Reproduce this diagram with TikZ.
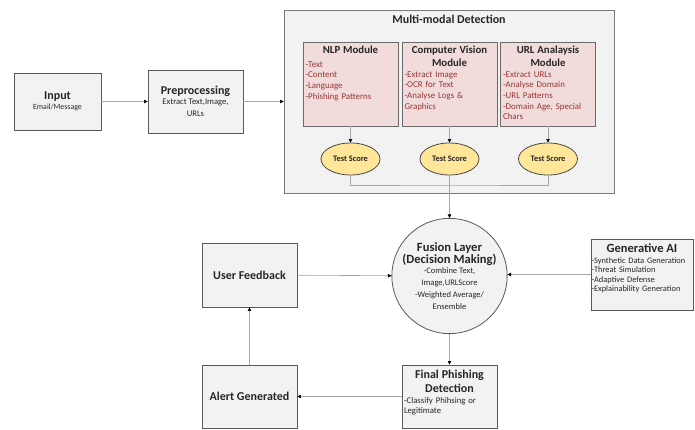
\documentclass[tikz,border=0pt]{standalone}
\usepackage{fontspec}
\setmainfont{Carlito}
\usetikzlibrary{arrows.meta,calc,positioning,shapes.geometric}
\definecolor{FlowInk}{HTML}{262626}
\definecolor{FlowLine}{HTML}{A6A6A6}
\definecolor{FlowEdge}{HTML}{595959}
\definecolor{FlowPaper}{HTML}{F2F2F2}
\definecolor{ModFill}{HTML}{F2DCDB}
\definecolor{ModInk}{HTML}{943634}
\definecolor{ScoreFill}{HTML}{FFE699}
\newcommand{\ttlfont}{\fontsize{12}{14.5}\selectfont\bfseries}
\newcommand{\modfont}{\fontsize{10.8}{13}\selectfont\bfseries}
\newcommand{\smfont}{\fontsize{8.6}{10.7}\selectfont}
\tikzset{
  every node/.style={text=FlowInk, inner sep=0pt},
  stage/.style={draw=FlowEdge, line width=0.8pt, fill=FlowPaper, minimum width=95pt, minimum height=63pt, align=center},
  group/.style={draw=FlowEdge!80, line width=0.9pt, fill=FlowPaper, minimum width=330pt, minimum height=183pt},
  module/.style={draw=FlowEdge!90, line width=0.8pt, fill=ModFill, minimum width=95pt, minimum height=84pt},
  modtext/.style={text width=90pt, align=left, font=\fontsize{8.9}{10.7}\selectfont, text=ModInk},
  score/.style={ellipse, draw=FlowEdge!80!black, line width=0.8pt, fill=ScoreFill, minimum width=59pt, minimum height=32pt, font=\fontsize{8.4}{9}\selectfont\bfseries},
  fusion/.style={circle, draw=FlowEdge, line width=0.8pt, fill=FlowPaper, minimum size=114pt, align=center},
  conn/.style={draw=FlowLine, line width=0.6pt},
  flow/.style={conn, -{Triangle[length=3.5pt,width=3.5pt,color=black]}},
}
\begin{document}
\begin{tikzpicture}[x=1pt,y=-1pt]
  \useasboundingbox (0,0) rectangle (695,430);
  % Input side
  \node[stage, minimum width=87pt, minimum height=57pt] (input) at (57.5,101.5)
    {{\ttlfont Input}\\[-2pt]{\fontsize{7.9}{10}\selectfont Email/Message}};
  \node[stage] (prep) at (195.5,101.5)
    {{\ttlfont Preprocessing}\\[-2pt]{\smfont Extract Text,Image,}\\{\smfont URLs}};
  % Multi-modal detection group
  \node[group] (mmd) at (449,101.5) {};
  \node[font=\ttlfont, below=5pt of mmd.north] (mmdtitle) {Multi-modal Detection};
  \node[module] (nlp) at (350.5,84) {};
  \node[module] (cv) at (449.5,84) {};
  \node[module] (url) at (548,84) {};
  \node[modtext, below=4pt of nlp.north] (nlptext)
    {{\centering\modfont\color{FlowInk}NLP Module\par}\vspace{3pt}-Text\\-Content\\-Language\\-Phishing Patterns};
  \node[modtext, below=4pt of cv.north] (cvtext)
    {{\centering\modfont\color{FlowInk}Computer Vision\\Module\par}-Extract Image\\-OCR for Text\\-Analyse Logs \&\\Graphics};
  \node[modtext, below=4pt of url.north] (urltext)
    {{\centering\modfont\color{FlowInk}URL Analaysis\\Module\par}-Extract URLs\\-Analyse Domain\\-URL Patterns\\-Domain Age, Special\\Chars};
  \node[score] (tsnlp) at (350.5,159) {Test Score};
  \node[score] (tscv) at (449.5,159) {Test Score};
  \node[score] (tsurl) at (548,159) {Test Score};
  \coordinate (merge) at (449.5,185);
  % Decision part
  \node[fusion] (fuse) at (449.5,276)
    {{\fontsize{12.6}{14.5}\selectfont\bfseries Fusion Layer}\\[0pt]{\fontsize{12.6}{14.5}\selectfont\bfseries (Decision Making)}\\[-2pt]{\fontsize{8.5}{10.3}\selectfont -Combine Text,}\\{\fontsize{8.5}{10.3}\selectfont Image,URLScore}\\{\fontsize{8.5}{10.3}\selectfont -Weighted Average/}\\{\fontsize{8.5}{10.3}\selectfont Ensemble}};
  \node[stage, minimum height=64pt] (feedback) at (249.5,275) {\ttlfont User Feedback};
  \node[stage] (alert) at (249.5,396.5) {\ttlfont Alert Generated};
  \node[stage] (final) at (449.5,396.5) {};
  \node[text width=91pt, align=left, font=\fontsize{8.7}{10.3}\selectfont, below=5pt of final.north] (finaltext)
    {{\centering\fontsize{12}{14}\selectfont\bfseries Final Phishing\\Detection\par}\vspace{1pt}-Classify Phihsing or\\Legitimate};
  \node[stage, minimum width=102pt, minimum height=71pt] (genai) at (642,274.5) {};
  \node[text width=101pt, align=left, font=\fontsize{8.4}{9.6}\selectfont, below=5pt of genai.north] (genaitext)
    {{\centering\fontsize{12.5}{13}\selectfont\bfseries Generative AI\par}\vspace{1pt}\mbox{-Synthetic Data Generation}\\-Threat Simulation\\-Adaptive Defense\\\mbox{-Explainability Generation}};
  % Connectors
  \draw[flow] (input) -- (prep);
  \draw[flow] (prep) -- (prep -| mmd.west);
  \draw[flow] (nlp) -- (tsnlp);
  \draw[flow] (cv) -- (tscv);
  \draw[flow] (url) -- (tsurl);
  \draw[conn] (tsnlp.south) |- (merge) -| (tsurl.south);
  \draw[conn] (tscv.south) -- (merge);
  \draw[flow] (merge) -- (fuse.north);
  \draw[flow] (feedback) -- (fuse);
  \draw[flow] (genai.west) -- (genai.west -| fuse.east);
  \draw[flow] (fuse) -- (final);
  \draw[flow] (final) -- (alert);
  \draw[flow] (alert) -- (feedback);
\end{tikzpicture}
\end{document}
